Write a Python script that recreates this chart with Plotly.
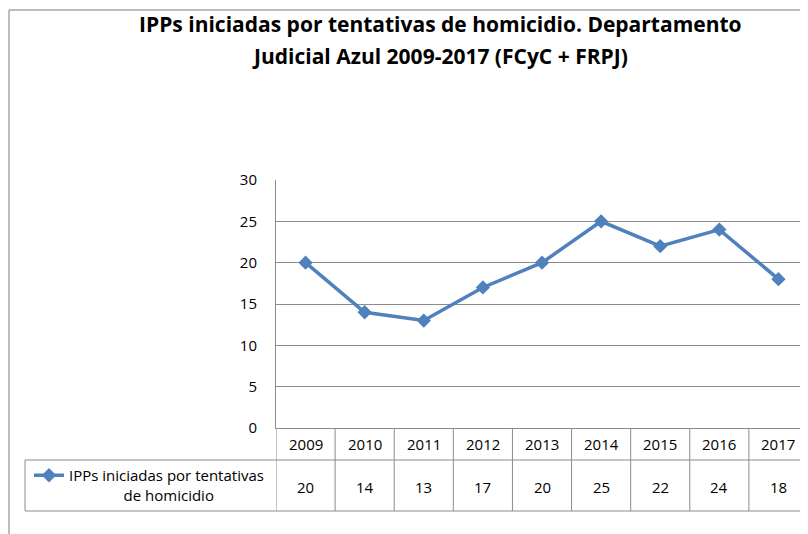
import plotly.graph_objects as go

# data
years = ["2009", "2010", "2011", "2012", "2013", "2014", "2015", "2016", "2017"]
ipps = [20, 14, 13, 17, 20, 25, 22, 24, 18]
series_name = "IPPs iniciadas por tentativas<br>" + "\u00a0" * 14 + "de homicidio"
title_lines = ["IPPs iniciadas por tentativas de homicidio. Departamento",
               "Judicial Azul 2009-2017 (FCyC + FRPJ)"]
y_ticks = [0, 5, 10, 15, 20, 25, 30]

W, H = 808, 534
OFF = 8  # the page body margin pushes the figure 8px right and down
FONT = "Open Sans, sans-serif"
GRID = "#8c8c8c"
BLUE = "#4f81bd"


def px(X):
    # page pixel column -> paper fraction
    return (X - OFF) / W


def py(Y):
    # page pixel row (from top) -> paper fraction
    return 1 - (Y - OFF) / H


fig = go.Figure()
fig.add_trace(go.Scatter(
    x=list(range(len(years))), y=ipps, mode="lines+markers", name=series_name,
    line=dict(color=BLUE, width=3.5),
    marker=dict(symbol="diamond", size=11, color=BLUE),
))

shapes = []
# outer chart border (top and left edges are the only ones in view)
shapes.append(dict(type="line", xref="paper", yref="paper",
                   x0=1 / W, x1=1.0, y0=1 - 2 / H, y1=1 - 2 / H,
                   line=dict(color="#a6a6a6", width=1.5)))
shapes.append(dict(type="line", xref="paper", yref="paper",
                   x0=1 / W, x1=1 / W, y0=0, y1=1 - 2 / H,
                   line=dict(color="#a6a6a6", width=1.5)))
# data table lines
for yy in [460, 511]:
    shapes.append(dict(type="line", xref="paper", yref="paper",
                       x0=px(25), x1=1.0, y0=py(yy), y1=py(yy),
                       line=dict(color=GRID, width=1)))
shapes.append(dict(type="line", xref="paper", yref="paper",
                   x0=px(25), x1=px(25), y0=py(460), y1=py(511),
                   line=dict(color=GRID, width=1)))
for i in range(len(years) + 1):
    shapes.append(dict(type="line", xref="x", yref="paper",
                       x0=i - 0.5, x1=i - 0.5, y0=py(428), y1=py(511),
                       line=dict(color=GRID, width=1)))

annotations = []
for line, yc in zip(title_lines, [24, 55.5]):
    annotations.append(dict(x=px(440), xref="paper", y=py(yc), yref="paper",
                            xanchor="center", yanchor="middle", showarrow=False,
                            text="<b>" + line + "</b>",
                            font=dict(size=21, color="#000000", family=FONT)))
for i, (yr, v) in enumerate(zip(years, ipps)):
    annotations.append(dict(x=i, xref="x", y=py(444), yref="paper", text=yr,
                            xanchor="center", yanchor="middle", showarrow=False,
                            font=dict(size=15, color="#000000", family=FONT)))
    annotations.append(dict(x=i, xref="x", y=py(487), yref="paper", text=str(v),
                            xanchor="center", yanchor="middle", showarrow=False,
                            font=dict(size=15, color="#000000", family=FONT)))

fig.update_layout(
    width=W, height=H,
    margin=dict(l=0, r=0, t=0, b=0, autoexpand=False),
    paper_bgcolor="white", plot_bgcolor="white",
    font=dict(family=FONT, color="#000000"),
    showlegend=True,
    legend=dict(x=px(29), y=py(459), xanchor="left", yanchor="top",
                bgcolor="rgba(0,0,0,0)", valign="top",
                font=dict(size=15, color="#000000", family=FONT),
                itemwidth=30, tracegroupgap=0),
    xaxis=dict(domain=[px(276), px(808)], range=[-0.5, 8.5], automargin=False,
               showticklabels=False, showgrid=False, zeroline=False,
               showline=True, linecolor=GRID, linewidth=1, mirror=False),
    yaxis=dict(domain=[py(428), py(180)], range=[0, 30], tickvals=y_ticks,
               automargin=False,
               showgrid=True, gridcolor=GRID, gridwidth=1, zeroline=False,
               showline=True, linecolor=GRID, linewidth=1,
               ticks="", ticklabelstandoff=15,
               tickfont=dict(size=15, color="#000000", family=FONT)),
    shapes=shapes,
    annotations=annotations,
)

fig.write_html("out.html")
